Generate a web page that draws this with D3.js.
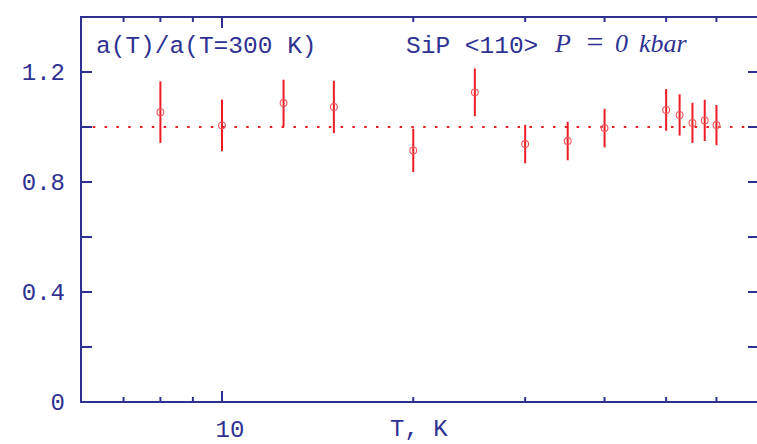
<!DOCTYPE html>
<html>
<head>
<meta charset="utf-8">
<script src="https://cdn.jsdelivr.net/npm/d3@7"></script>
<style>
  body { margin: 0; background: #fff; }
  svg { display: block; }
  .mono { font-family: "Liberation Mono", "DejaVu Sans Mono", monospace; }
</style>
</head>
<body>
<svg id="chart" width="757" height="444"></svg>
<script>
// temperature, K
const temps = [8, 10, 12.5, 15, 20, 25, 30, 35, 40, 50, 52.5, 55, 57.5, 60];
// a(T)/a(T=300 K)
const ratio = [1.054, 1.006, 1.087, 1.073, 0.915, 1.126, 0.938, 0.949, 0.996, 1.062, 1.044, 1.015, 1.024, 1.007];
// error half-widths
const errs  = [0.112, 0.094, 0.085, 0.095, 0.079, 0.087, 0.070, 0.070, 0.070, 0.076, 0.075, 0.073, 0.075, 0.073];

const xMinorTicks = [7, 8, 9, 20, 30, 40, 50, 60];
const xMajorTicks = [10];
const yTicks = [0, 0.2, 0.4, 0.6, 0.8, 1.0, 1.2];
const yLabels = [0, 0.4, 0.8, 1.2];

const AXIS = "#2e3192";
const RED = "#ed1c24";

const svg = d3.select("#chart");
const M = { left: 81, top: 17, right: 759, bottom: 402 };

const x = d3.scaleLog().domain([6, 70]).range([M.left, M.right]);
const y = d3.scaleLinear().domain([0, 1.4]).range([M.bottom, M.top]);

// reference line at 1
svg.append("line")
  .attr("x1", M.left).attr("x2", M.right)
  .attr("y1", y(1)).attr("y2", y(1))
  .attr("stroke", RED).attr("stroke-width", 2)
  .attr("stroke-dasharray", "2.5,9.3");

// error bars
svg.append("g").selectAll("line").data(temps).join("line")
  .attr("x1", d => x(d)).attr("x2", d => x(d))
  .attr("y1", (d, i) => y(ratio[i] + errs[i]))
  .attr("y2", (d, i) => y(ratio[i] - errs[i]))
  .attr("stroke", RED).attr("stroke-width", 2);

// points
svg.append("g").selectAll("circle").data(temps).join("circle")
  .attr("cx", d => x(d)).attr("cy", (d, i) => y(ratio[i]))
  .attr("r", 3.4)
  .attr("fill", "none").attr("stroke", "#f0565c").attr("stroke-width", 1.1);

// frame
const frame = svg.append("g").attr("stroke", AXIS).attr("stroke-width", 2).attr("fill", "none");
frame.append("rect")
  .attr("x", M.left).attr("y", M.top)
  .attr("width", M.right - M.left).attr("height", M.bottom - M.top);

// y ticks both sides
yTicks.forEach(v => {
  frame.append("line").attr("x1", M.left).attr("x2", M.left + 11).attr("y1", y(v)).attr("y2", y(v));
  frame.append("line").attr("x1", M.right - 11).attr("x2", M.right).attr("y1", y(v)).attr("y2", y(v));
});

// x ticks top and bottom
xMinorTicks.forEach(v => {
  frame.append("line").attr("x1", x(v)).attr("x2", x(v)).attr("y1", M.bottom).attr("y2", M.bottom - 5);
  frame.append("line").attr("x1", x(v)).attr("x2", x(v)).attr("y1", M.top).attr("y2", M.top + 5);
});
xMajorTicks.forEach(v => {
  frame.append("line").attr("x1", x(v)).attr("x2", x(v)).attr("y1", M.bottom).attr("y2", M.bottom - 11);
  frame.append("line").attr("x1", x(v)).attr("x2", x(v)).attr("y1", M.top).attr("y2", M.top + 11);
});

// tick labels
svg.append("g").attr("class", "mono").selectAll("text").data(yLabels).join("text")
  .attr("x", 65).attr("y", d => y(d) + 8)
  .attr("text-anchor", "end")
  .attr("font-size", 24).attr("fill", AXIS)
  .text(d => d === 0 ? "0" : d.toFixed(1));

svg.append("g").attr("class", "mono").selectAll("text").data(xMajorTicks).join("text")
  .attr("x", d => x(d) + 8).attr("y", 437)
  .attr("text-anchor", "middle")
  .attr("font-size", 24).attr("fill", AXIS)
  .text(d => d);

svg.append("text").attr("class", "mono")
  .attr("x", 390).attr("y", 436)
  .attr("font-size", 24).attr("fill", AXIS)
  .text("T, K");

// labels in the plot
svg.append("text").attr("class", "mono")
  .attr("x", 96).attr("y", 53)
  .attr("font-size", 24.5).attr("fill", AXIS)
  .text("a(T)/a(T=300 K)");

svg.append("text").attr("class", "mono")
  .attr("x", 406).attr("y", 53)
  .attr("font-size", 24.5).attr("fill", AXIS)
  .text("SiP <110>");

// P = 0 kbar, math style spacing
const mathG = svg.append("g")
  .attr("font-family", "Liberation Serif, serif")
  .attr("font-size", 26).attr("fill", AXIS);
mathG.append("text").attr("x", 555).attr("y", 52).attr("font-style", "italic").text("P");
mathG.append("text").attr("x", 595).attr("y", 52).attr("text-anchor", "middle")
  .attr("font-size", 30).text("=");
mathG.append("text").attr("x", 615).attr("y", 52).attr("font-style", "italic").text("0");
mathG.append("text").attr("x", 639).attr("y", 52).attr("font-style", "italic").text("kbar");
</script>
</body>
</html>
